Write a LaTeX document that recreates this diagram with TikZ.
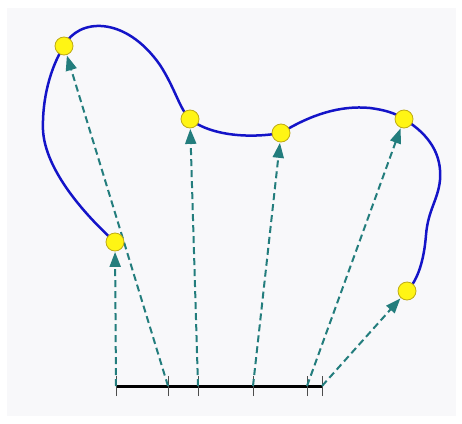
\documentclass[tikz,border=0pt]{standalone}
\usetikzlibrary{arrows.meta}
\pgfdeclarelayer{bg}
\pgfdeclarelayer{mid}
\pgfsetlayers{bg,mid,main}
\definecolor{curveblue}{RGB}{20,20,200}
\definecolor{teal}{RGB}{35,125,125}
\definecolor{ptfill}{RGB}{255,245,20}
\definecolor{ptdraw}{RGB}{190,170,20}
\definecolor{panel}{RGB}{248,248,250}
\tikzset{
  pt/.style={circle, fill=ptfill, draw=ptdraw, line width=0.8pt, minimum size=18pt, inner sep=0pt},
  vec/.style={teal, line width=2pt, dash pattern=on 7pt off 4pt, -{Triangle[length=15pt,width=11pt]}, shorten >=0.5pt},
  curve/.style={curveblue, line width=2.5pt},
  baseline/.style={black, line width=3pt},
  tick/.style={black!70, line width=1pt}
}
\begin{document}
\begin{tikzpicture}[x=1pt,y=-1pt]
\useasboundingbox (0,0) rectangle (462,423);
\begin{pgfonlayer}{bg}
\fill[white] (0,0) rectangle (462,423);
\fill[panel] (7,8) rectangle (456,416);
\end{pgfonlayer}
% points
\node[pt] (p1) at (115,242) {};
\node[pt] (p2) at (64,46) {};
\node[pt] (p3) at (190,119) {};
\node[pt] (p4) at (281,133) {};
\node[pt] (p5) at (404,119) {};
\node[pt] (p6) at (407,291) {};
% base parameters
\coordinate (b1) at (116,386);
\coordinate (b2) at (168,386);
\coordinate (b3) at (198,386);
\coordinate (b4) at (253,386);
\coordinate (b5) at (307,386);
\coordinate (b6) at (322,386);
\coordinate (bl) at (116,386);
\coordinate (br) at (322,386);
\begin{pgfonlayer}{mid}
\draw[curve] (p1.center) .. controls (85,215) and (45,170) .. (43,130)
  .. controls (42,100) and (50,68) .. (p2.center)
  .. controls (78,18) and (125,15) .. (160,65)
  .. controls (175,88) and (180,110) .. (p3.center)
  .. controls (205,132) and (240,140) .. (p4.center)
  .. controls (310,115) and (340,105) .. (370,108)
  .. controls (385,110) and (395,113) .. (p5.center)
  .. controls (430,135) and (442,155) .. (440,180)
  .. controls (438,200) and (428,210) .. (426,235)
  .. controls (424,260) and (418,280) .. (p6.center);
\draw[baseline] (bl) -- (br);
\foreach \b in {b1,b2,b3,b4,b5,b6}
  \draw[tick] ([yshift=-10pt]\b) -- ([yshift=10pt]\b);
\draw[vec] (b1) -- (p1);
\draw[vec] (b2) -- (p2);
\draw[vec] (b3) -- (p3);
\draw[vec] (b4) -- (p4);
\draw[vec] (b5) -- (p5);
\draw[vec] (b6) -- (p6);
\end{pgfonlayer}
\end{tikzpicture}
\end{document}
